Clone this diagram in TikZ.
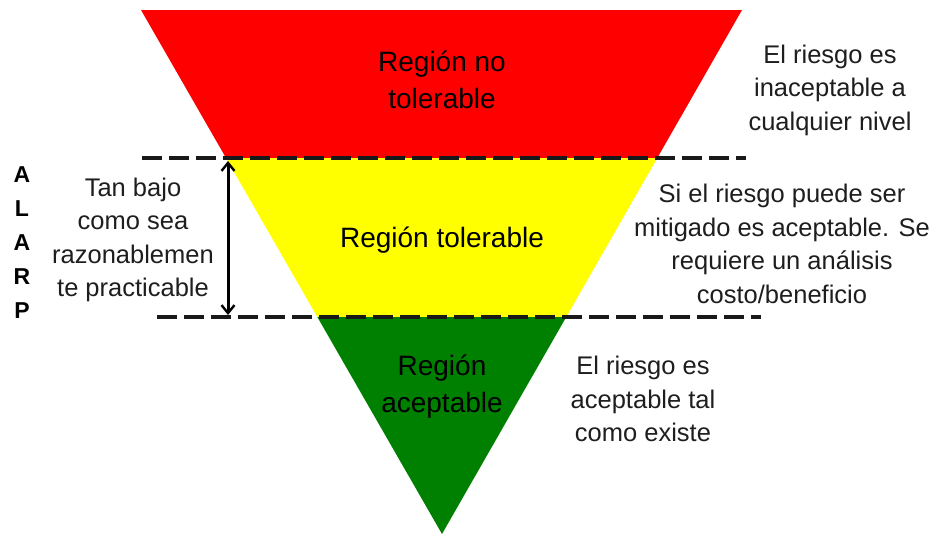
\documentclass[tikz,border=0pt]{standalone}
\usepackage{fontspec}
\setmainfont{Liberation Sans}
\usetikzlibrary{arrows.meta}
\definecolor{cred}{RGB}{255,0,0}
\definecolor{cyellow}{RGB}{255,255,0}
\definecolor{cgreen}{RGB}{0,128,0}
\definecolor{sidetext}{RGB}{30,30,30}
\tikzset{
  band/.style={draw=none},
  regiontext/.style={align=center, font=\fontsize{28}{37}\selectfont, text=black, inner sep=0pt},
  sidenote/.style={align=center, font=\fontsize{25.5}{33.5}\selectfont, text=sidetext, inner sep=0pt},
  alarpletter/.style={font=\fontsize{23}{23}\selectfont\bfseries, text=black, inner sep=0pt},
  dashline/.style={line width=3.5pt, dash pattern=on 20pt off 7pt, black!90},
  barb/.tip={Straight Barb[length=8pt,width=13pt,line width=2.4pt]},
  dblarrow/.style={draw=black, line width=3pt, barb-barb}
}
\begin{document}
\begin{tikzpicture}[x=1pt,y=-1pt]
\useasboundingbox (0,0) rectangle (934,536);
% triangle bands
\begin{scope}
  \clip (141,10) -- (742,10) -- (442,534) -- cycle;
  \fill[cred, band] (100,0) rectangle (800,158);
  \fill[cyellow, band] (100,158) rectangle (800,317);
  \fill[cgreen, band] (100,317) rectangle (800,540);
\end{scope}
% dashed lines
\coordinate (d1a) at (142,158);
\coordinate (d1b) at (746,158);
\coordinate (d2a) at (157,317);
\coordinate (d2b) at (761,317);
\draw[dashline] (d1a) -- (d1b);
\draw[dashline] (d2a) -- (d2b);
% arrow
\coordinate (ar1) at (228,161);
\coordinate (ar2) at (228,315);
\draw[dblarrow] (ar1) -- (ar2);
% region texts
\node[regiontext] (rno) at (442,80) {Región no\\tolerable};
\node[regiontext] (rtol) at (442,240) {Región tolerable};
\node[regiontext] (racc) at (442,387) {Región\\aceptable};
% side notes
\node[sidenote] (n1) at (830,90) {El riesgo es\\inaceptable a\\cualquier nivel};
\node[sidenote] (n2) at (782,244) {Si el riesgo puede ser\\mitigado es aceptable. Se\\requiere un análisis\\costo/beneficio};
\node[sidenote] (n3) at (643,399) {El riesgo es\\aceptable tal\\como existe};
\node[sidenote] (n4) at (133,240) {Tan bajo\\como sea\\razonablemen\\te practicable};
% ALARP
\node[alarpletter] (la1) at (22,175) {A};
\node[alarpletter] (la2) at (22,209) {L};
\node[alarpletter] (la3) at (22,243) {A};
\node[alarpletter] (la4) at (22,277) {R};
\node[alarpletter] (la5) at (22,311) {P};
\end{tikzpicture}
\end{document}
